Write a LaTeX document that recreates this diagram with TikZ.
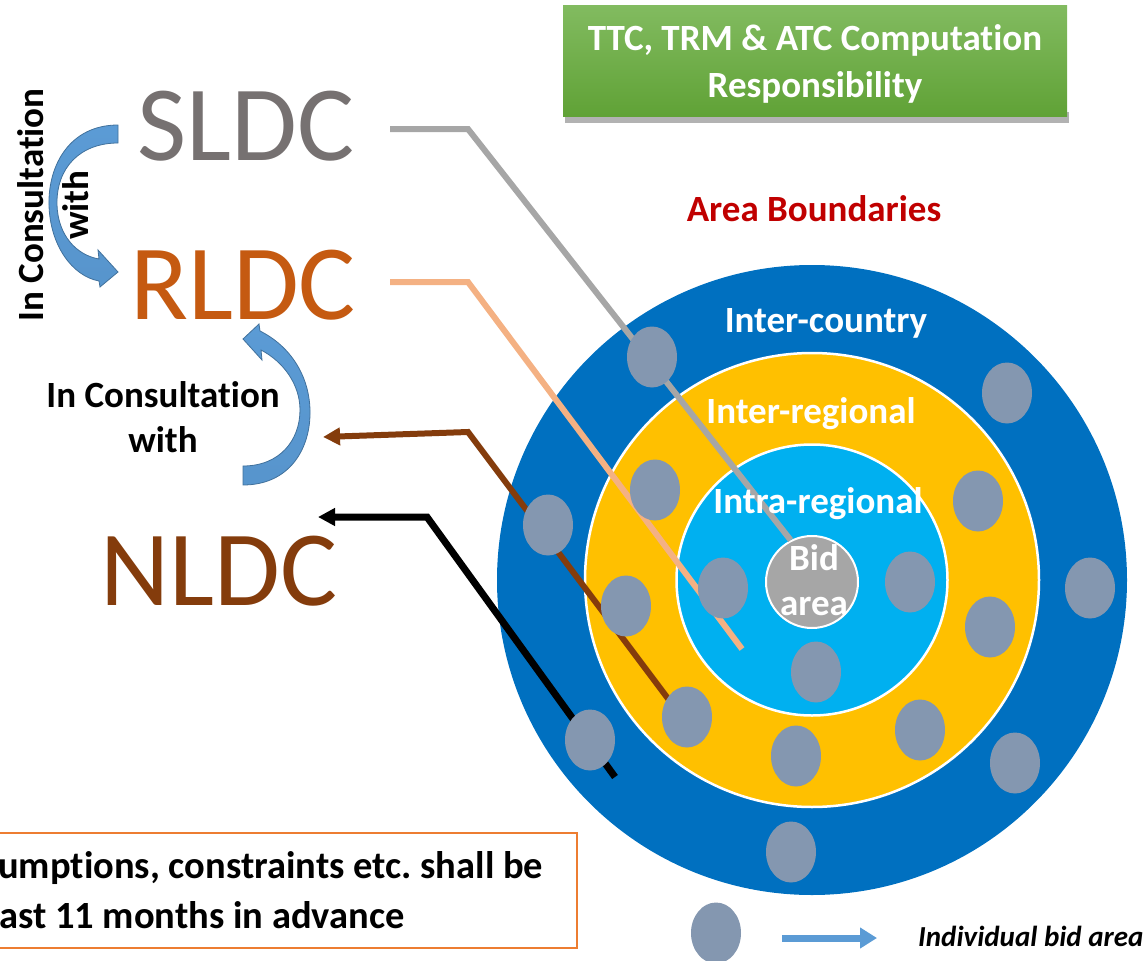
\documentclass[tikz,border=0pt]{standalone}
\usepackage{fontspec}
\setmainfont{Carlito}[RawFeature={-liga;-clig;-calt;-dlig}]
\frenchspacing
\newcommand{\tiseq}{t\kern0pt i}
\usetikzlibrary{shapes.geometric,arrows.meta}
\definecolor{outerblue}{HTML}{0070C0}
\definecolor{ringyellow}{HTML}{FFC000}
\definecolor{innerblue}{HTML}{00B0F0}
\definecolor{bidgrey}{HTML}{A6A6A6}
\definecolor{ellgrey}{HTML}{8497B0}
\definecolor{lgrey}{HTML}{A6A6A6}
\definecolor{lorange}{HTML}{F4B183}
\definecolor{lbrown}{HTML}{843C0C}
\definecolor{sldcgrey}{HTML}{767171}
\definecolor{rldcorange}{HTML}{C55A11}
\definecolor{areared}{HTML}{C00000}
\definecolor{boxorange}{HTML}{ED7D31}
\definecolor{ribblue}{HTML}{5B9BD5}
\definecolor{ribdark}{HTML}{41719C}
\definecolor{boxtop}{HTML}{82BB60}
\definecolor{boxbot}{HTML}{60A236}
\begin{document}
\begin{tikzpicture}[x=1pt,y=-1pt,
  bidell/.style={ellipse, fill=ellgrey, minimum width=50pt, minimum height=61pt, inner sep=0pt},
  ring/.style={circle, inner sep=0pt},
  big/.style={font=\fontsize{107}{110}\selectfont, inner sep=0pt, anchor=base},
  lbl/.style={font=\bfseries\fontsize{37}{44}\selectfont, inner sep=0pt, anchor=base},
  conn/.style={line width=6pt, line join=miter},
  tip/.style={-{Triangle[length=17pt,width=17pt]}},
  ribbon/.style={top color=ribblue, bottom color=ribblue!85!ribdark, draw=ribdark, line width=0.8pt},
]
\useasboundingbox (0,0) rectangle (1144,961);
\clip (0,0) rectangle (1144,961);

% concentric areas
\node[ring, fill=outerblue, minimum size=630pt] (outer) at (812,580) {};
\node[ring, fill=ringyellow, draw=white, line width=2.5pt, minimum size=454pt] (yel) at (812,580) {};
\node[ring, fill=innerblue, draw=white, line width=2.5pt, minimum size=271pt] (inn) at (812,580) {};
\node[ring, fill=bidgrey, draw=white, line width=2pt, minimum size=92pt] (bid) at (812,582) {};

% connectors
\coordinate (s1) at (390,129); \coordinate (s2) at (468,129);
\coordinate (r1) at (390,282); \coordinate (r2) at (468,282); \coordinate (r3) at (742,649);
\coordinate (b1) at (672,704); \coordinate (b2) at (468,432); \coordinate (b3) at (323,437);
\coordinate (k1) at (615,777); \coordinate (k2) at (427,517); \coordinate (k3) at (318,517);
\draw[conn, lgrey] (s1) -- (s2) -- (bid.117);
\draw[conn, lorange] (r1) -- (r2) -- (r3);
\draw[conn, lbrown, tip] (b1) -- (b2) -- (b3);
\draw[conn, black, line width=7pt, tip] (k1) -- (k2) -- (k3);

% individual bid areas
\foreach \n/\p in {1/{(652,357)},2/{(1007,393)},3/{(655,490)},4/{(978,501)},5/{(548,525)},
  6/{(1090,588)},7/{(626,606)},8/{(723,588)},9/{(910,582)},10/{(990,627)},11/{(816,672)},
  12/{(687,717)},13/{(920,730)},14/{(590,740)},15/{(796,756)},16/{(1015,763)},17/{(791,852)}}
  \node[bidell] (e\n) at \p {};

% ring labels
\node[lbl, text=white] (lic) at (826,332) {Inter-country};
\node[lbl, text=white] (lir) at (811,423) {Inter-regional};
\node[lbl, text=white] (lia) at (818,513) {Intra-regional};
\node[lbl, text=white] (lb1) at (814,570) {Bid};
\node[lbl, text=white] (lb2) at (814,615) {area};

% title box
\fill[black, opacity=0.3] (565,112) rectangle (1069,123);
\node[top color=boxtop, bottom color=boxbot, minimum width=504pt, minimum height=111pt, inner sep=0pt] (title) at (815,60.5) {};
\node[lbl, text=white] (t1) at (815,50) {TTC, TRM \& ATC Computa\tiseq on};
\node[lbl, text=white] (t2) at (815,97) {Responsibility};
\node[lbl, text=areared] (ab) at (814,221) {Area Boundaries};

% control centres
\node[big, text=sldcgrey] (sldc) at (246,160) {SLDC};
\node[big, text=rldcorange] (rldc) at (243,319) {RLDC};
\node[big, text=lbrown] (nldc) at (219,605) {NLDC};

% consultation arrows
\path[ribbon] (118,125) .. controls (70,125) and (48,165) .. (49,205) .. controls (50,245) and (72,276) .. (99,281) -- (100,287) -- (118,272) -- (98,250) -- (99,259) .. controls (76,255) and (58,235) .. (57,205) .. controls (56,168) and (80,143) .. (118,143) -- cycle;
\path[ribbon] (243,485) .. controls (290,485) and (311,448) .. (310,410) .. controls (309,375) and (290,346) .. (260,331) -- (259,324) -- (243,339) -- (262,360) -- (261,350) .. controls (284,362) and (300,385) .. (300,410) .. controls (300,440) and (280,466) .. (243,466) -- cycle;
\node[lbl, rotate=90] (c1) at (43,205) {In Consulta\tiseq on};
\node[lbl, rotate=90] (c1w) at (88,205) {with};
\node[lbl] (c2) at (163,407) {In Consulta\tiseq on};
\node[lbl] (c2w) at (163,452) {with};

% note box
\node[draw=boxorange, line width=2pt, minimum width=600pt, minimum height=115pt, inner sep=0pt] (note) at (277,890.5) {};
\node[lbl, font=\bfseries\fontsize{38.5}{46}\selectfont, anchor=base west] (n1) at (-2,878) {ump\tiseq ons, constraints etc. shall be};
\node[lbl, font=\bfseries\fontsize{38.5}{46}\selectfont, anchor=base west] (n2) at (-1,928) {ast 11 months in advance};

% legend
\node[bidell] (leg) at (716,933) {};
\coordinate (la1) at (782,938); \coordinate (la2) at (877,938);
\draw[ribblue, line width=7pt, -{Triangle[length=17pt,width=20pt]}] (la1) -- (la2);
\node[font=\bfseries\itshape\fontsize{29}{34}\selectfont, anchor=base west, inner sep=0pt] (legt) at (918,946) {Individual bid area};
\end{tikzpicture}
\end{document}
